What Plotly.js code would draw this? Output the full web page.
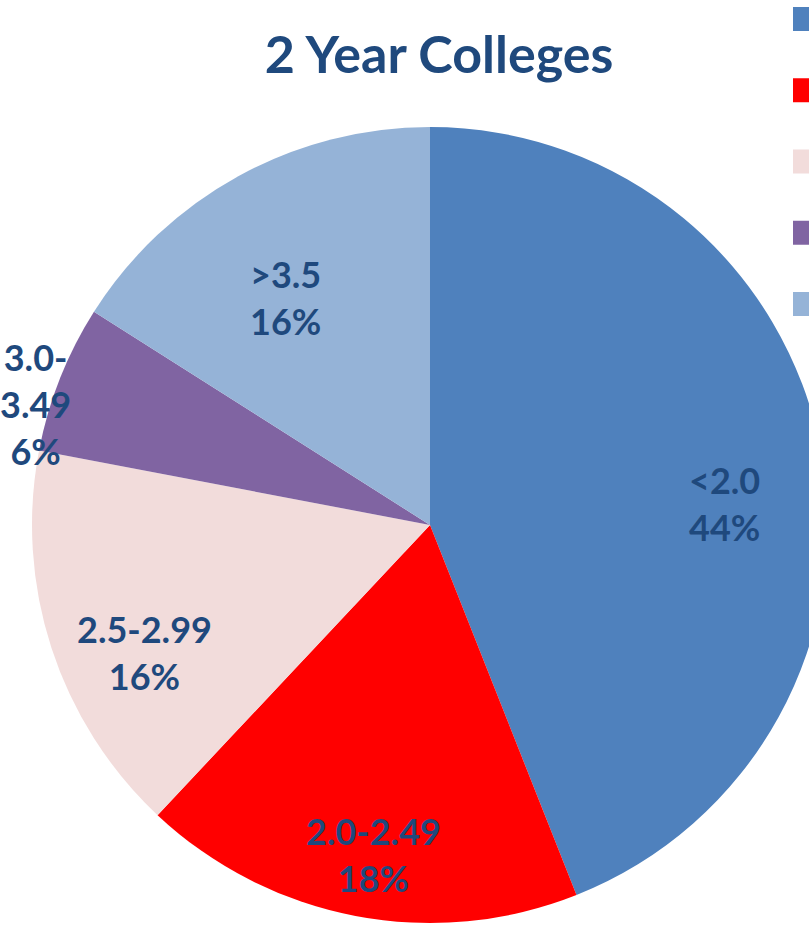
<!DOCTYPE html>
<html>
<head>
<meta charset="utf-8">
<script src="https://cdn.plot.ly/plotly-3.0.1.min.js"></script>
<style>
html, body { margin: 0; padding: 0; overflow: hidden; background: #fff; }
#chart { width: 830px; height: 935px; }
</style>
</head>
<body>
<div id="chart"></div>
<script>
// Data
const labels = ['&lt;2.0', '2.0-2.49', '2.5-2.99', '3.0-3.49', '&gt;3.5'];
const values = [44, 18, 16, 6, 16];
const colors = ['#4F81BD', '#FF0000', '#F2DCDB', '#8064A2', '#95B3D7'];
const title = '2 Year Colleges';

const W = 830, H = 935;
const textColor = '#1F497D';
const fontFam = 'Lato, "Open Sans", sans-serif';

// pie geometry (pixels)
const cx = 430, cy = 525, r = 398;
// data-label placement (pixels): labels sit along each slice's mid-angle
const lcx = 430, lcy = 560, lrIn = 300, lrOut = 424;
const outsideIdx = 3; // small slice labelled outside, as in the reference

const total = values.reduce((a, b) => a + b, 0);
const pct = values.map(v => Math.round(v / total * 100) + '%');

const trace = {
  type: 'pie',
  labels: labels,
  values: values,
  sort: false,
  direction: 'clockwise',
  rotation: 0,
  marker: { colors: colors, line: { width: 0 } },
  textinfo: 'none',
  hoverinfo: 'label+percent',
  showlegend: false,
  domain: {
    x: [(cx - r) / W, (cx + r) / W],
    y: [(H - (cy + r)) / H, (H - (cy - r)) / H]
  }
};

// data labels along mid-angles computed from the values
let cum = 0;
const annotations = values.map((v, i) => {
  const mid = (cum + v / 2) / total * 2 * Math.PI;
  cum += v;
  const rr = i === outsideIdx ? lrOut : lrIn;
  const px = lcx + rr * Math.sin(mid);
  const py = lcy - rr * Math.cos(mid);
  const lab = i === outsideIdx ? labels[i].replace('-', '-<br>') : labels[i];
  return {
    xref: 'paper', yref: 'paper',
    x: px / W, y: 1 - py / H,
    xanchor: 'center', yanchor: 'middle',
    showarrow: false,
    text: lab + '<br>' + pct[i],
    font: { family: fontFam, size: 36, color: textColor, weight: 'bold' }
  };
});

// legend swatches (their text lies beyond the visible page edge in the reference)
const shapes = colors.map((c, i) => ({
  type: 'rect', xref: 'paper', yref: 'paper',
  x0: 793 / W, x1: 1,
  y0: 1 - (31 + 71.25 * i) / H, y1: 1 - (7 + 71.25 * i) / H,
  fillcolor: c, line: { width: 0 }
}));

const layout = {
  width: W, height: H,
  margin: { l: 0, r: 0, t: 0, b: 0, autoexpand: false },
  paper_bgcolor: '#ffffff',
  plot_bgcolor: '#ffffff',
  title: {
    text: title,
    x: 439 / W, xanchor: 'center', xref: 'paper',
    y: 1 - 55 / H, yanchor: 'middle', yref: 'container',
    font: { family: fontFam, size: 52, color: textColor, weight: 'bold' }
  },
  shapes: shapes,
  annotations: annotations,
  showlegend: false
};

Plotly.newPlot('chart', [trace], layout, { displayModeBar: false, staticPlot: true });
</script>
</body>
</html>
